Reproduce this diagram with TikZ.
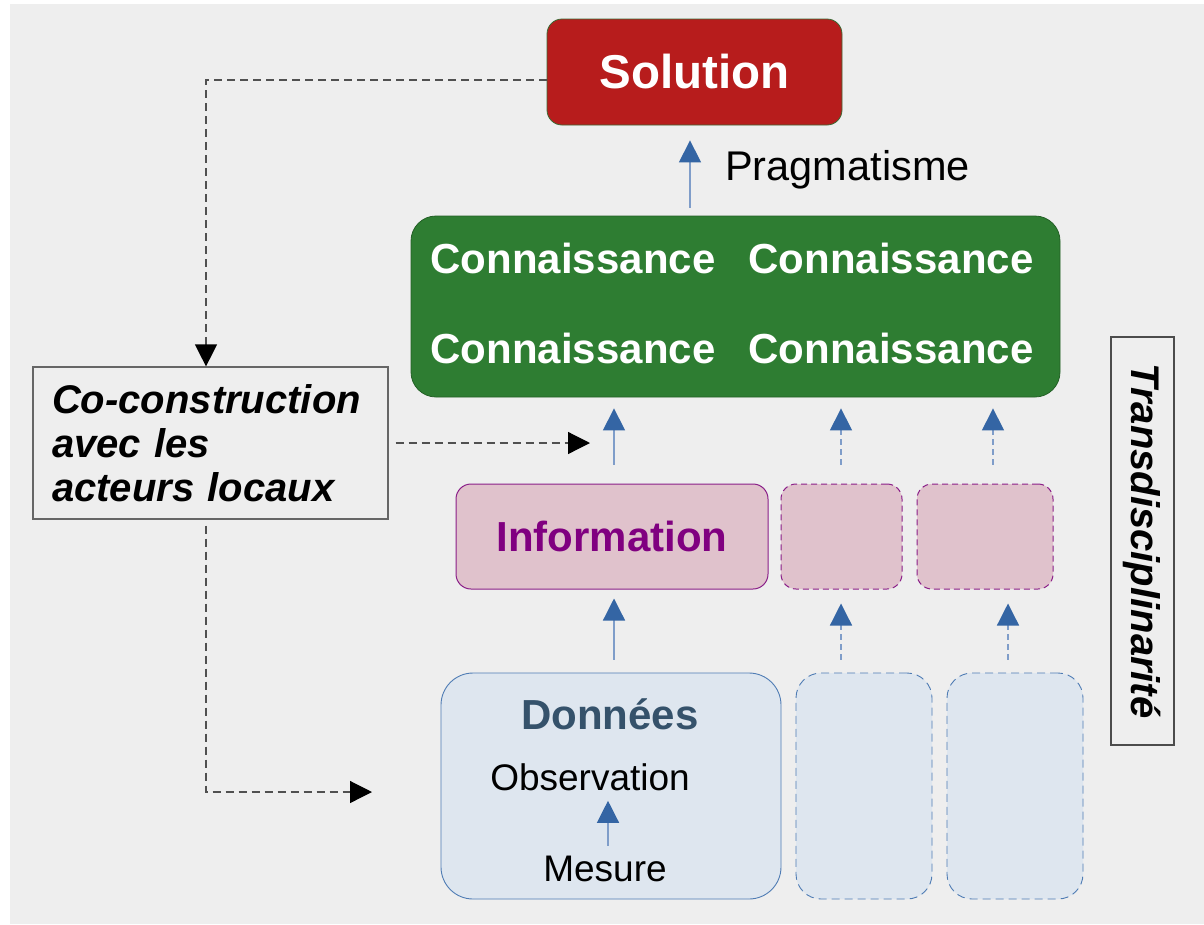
\documentclass[tikz,border=0pt]{standalone}
\usepackage{fontspec}
\setmainfont{Liberation Sans}
\usetikzlibrary{arrows.meta}
\definecolor{bg}{HTML}{EEEEEE}
\definecolor{solred}{HTML}{B71C1C}
\definecolor{soledge}{HTML}{3B6B35}
\definecolor{kgreen}{HTML}{2E7D32}
\definecolor{kedge}{HTML}{236026}
\definecolor{pinkfill}{HTML}{E0C2CC}
\definecolor{purp}{HTML}{800080}
\definecolor{purpedge}{HTML}{8A1F88}
\definecolor{bluefill}{HTML}{DEE6EF}
\definecolor{blueedge}{HTML}{4F7CB4}
\definecolor{darkslate}{HTML}{35526B}
\definecolor{arrowblue}{HTML}{3465A4}
\definecolor{lineblue}{HTML}{7F9DC9}
\definecolor{dashgrey}{HTML}{505050}
\tikzset{
  solbox/.style={fill=solred, draw=soledge, line width=0.8pt, rounded corners=15pt,
    minimum width=295pt, minimum height=106pt, text=white,
    font=\fontsize{47.5}{56}\selectfont\bfseries},
  knbox/.style={fill=kgreen, draw=kedge, line width=0.8pt, rounded corners=25pt,
    minimum width=649pt, minimum height=181pt},
  kntext/.style={text=white, font=\fontsize{42}{50}\selectfont\bfseries, inner sep=0pt},
  infobox/.style={fill=pinkfill, draw=purpedge, line width=1pt, rounded corners=15pt,
    minimum height=105pt},
  infodash/.style={infobox, dash pattern=on 6pt off 4pt},
  donbox/.style={fill=bluefill, draw=blueedge, line width=0.9pt, rounded corners=32pt,
    minimum height=226pt},
  dondash/.style={donbox, rounded corners=25pt, dash pattern=on 8pt off 5pt},
  plaintext/.style={font=\fontsize{37}{44}\selectfont, inner sep=0pt},
  barrow/.style={draw=lineblue, line width=1.3pt,
    -{Triangle[length=22pt,width=22pt,color=arrowblue]}},
  bdarrow/.style={barrow, dash pattern=on 6pt off 4pt},
  karrow/.style={draw=dashgrey, line width=1.2pt, dash pattern=on 8pt off 5pt,
    -{Triangle[length=22pt,width=22pt,color=black]}},
}
\begin{document}
\begin{tikzpicture}[x=1pt,y=-1pt]
\useasboundingbox (0,0) rectangle (1204,924);
\fill[white] (0,0) rectangle (1204,924);
\fill[bg] (10,4) rectangle (1204,924);

% column coordinates
\coordinate (c0) at (690,0);
\coordinate (c1) at (614,0);
\coordinate (c2) at (841,0);
\coordinate (c3) at (993,0);
\coordinate (c4) at (1008,0);
\coordinate (cm) at (608,0);

% Solution
\node[solbox] (sol) at (694.5,72) {Solution};
\node[font=\fontsize{41.5}{48}\selectfont, anchor=west, inner sep=0pt] (prag) at (725,170) {Pragmatisme};

% Connaissance
\node[knbox] (kn) at (735.5,306.5) {};
\node[kntext] (k1) at (573,258) {Connaissance};
\node[kntext] (k2) at (891,258) {Connaissance};
\node[kntext] (k3) at (573,348) {Connaissance};
\node[kntext] (k4) at (891,348) {Connaissance};

% Information
\node[infobox, minimum width=312pt] (info) at (612,536.5)
  {\textcolor{purp}{\fontsize{42}{50}\selectfont\bfseries Information}};
\node[infodash, minimum width=121pt] (info2) at (841.5,536.5) {};
\node[infodash, minimum width=136pt] (info3) at (985,536.5) {};

% Donnees
\node[donbox, minimum width=340pt] (don) at (611,786) {};
\node[text=darkslate, font=\fontsize{42}{50}\selectfont\bfseries, inner sep=0pt] (dont) at (610,714) {Données};
\node[plaintext] (obs) at (590,777) {Observation};
\node[plaintext] (mes) at (605,869) {Mesure};
\node[dondash, minimum width=136pt] (don2) at (864,786) {};
\node[dondash, minimum width=136pt] (don3) at (1015,786) {};

% Co-construction
\node[draw=black!60, fill=bg, line width=1.2pt, minimum width=355pt, minimum height=152pt,
  text width=317pt, inner xsep=19pt, align=left,
  font=\fontsize{40}{44}\selectfont\bfseries\itshape] (co) at (210.5,443)
  {Co-construction\\avec les\\acteurs locaux};

% Transdisciplinarite
\node[draw=black!70, line width=1.2pt, rotate=-90, minimum width=408pt, minimum height=63pt,
  font=\fontsize{40}{48}\selectfont\bfseries\itshape] (trans) at (1142.5,541) {Transdisciplinarité};

% blue arrows
\draw[barrow, shorten <=8pt, shorten >=15pt] (kn.north -| c0) -- (sol.south -| c0);
\draw[barrow, shorten <=19pt, shorten >=11pt] (info.north -| c1) -- (kn.south -| c1);
\draw[bdarrow, shorten <=19pt, shorten >=11pt] (info2.north -| c2) -- (kn.south -| c2);
\draw[bdarrow, shorten <=19pt, shorten >=11pt] (info3.north -| c3) -- (kn.south -| c3);
\draw[barrow, shorten <=13pt, shorten >=9pt] (don.north -| c1) -- (info.south -| c1);
\draw[bdarrow, shorten <=13pt, shorten >=14pt] (don2.north -| c2) -- (info2.south -| c2);
\draw[bdarrow, shorten <=13pt, shorten >=14pt] (don3.north -| c4) -- (info3.south -| c4);
\draw[barrow, shorten <=10pt, shorten >=10pt] (mes.north -| cm) -- (obs.south -| cm);

% dashed black connectors
\coordinate (e1) at (590,443);
\coordinate (e2) at (372,792);
\draw[karrow] ([yshift=-8pt]sol.west) -| ([xshift=-4.5pt]co.north);
\draw[karrow, shorten <=7pt] (co.east) -- (e1);
\draw[karrow, shorten <=6pt] ([xshift=-4.5pt]co.south) |- (e2);
\end{tikzpicture}
\end{document}
